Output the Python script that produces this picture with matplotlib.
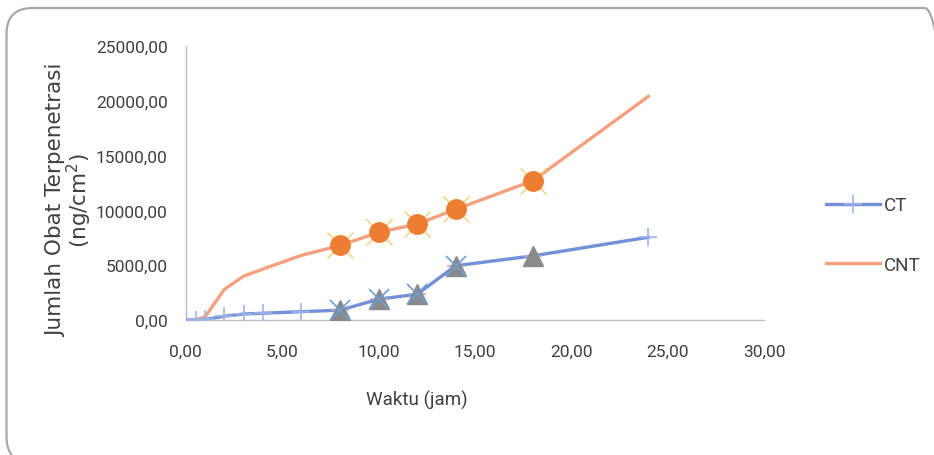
import matplotlib.pyplot as plt
from matplotlib.patches import FancyBboxPatch
from matplotlib.ticker import FuncFormatter

# Data
waktu = [0, 0.5, 1, 2, 3, 4, 6, 8, 10, 12, 14, 18, 24]
ct = [0, 0, 50, 350, 550, 620, 760, 900, 1900, 2350, 4950, 5850, 7550]
cnt = [0, 0, 300, 2800, 4000, 4650, 5900, 6800, 8000, 8750, 10100, 12700, 20400]

# special markers (Excel point formatting)
ct_tri_x = [8, 10, 12, 14, 18]
ct_tri_y = [900, 1900, 2350, 4950, 5850]
ct_star_x = [8, 10, 12, 14]
ct_star_y = [900, 1900, 2350, 4950]
cnt_dot_x = [8, 10, 12, 14, 18]
cnt_dot_y = [6800, 8000, 8750, 10100, 12700]

narrow = ['Roboto', 'DejaVu Sans']
txt = '#404040'

fig = plt.figure(figsize=(9.34, 4.56), dpi=100)
ax = fig.add_axes([0.199, 0.296, 0.619, 0.601])

# rounded border (inches), runs off the right and bottom edges
box = FancyBboxPatch((0.065, -0.08), 9.44, 4.55, boxstyle='round,pad=0,rounding_size=0.26',
                     transform=fig.dpi_scale_trans, facecolor='none', edgecolor='#a8a8a8', lw=1.6)
fig.patches.append(box)

ax.plot(waktu, ct, color='#7490d8', lw=2.4, marker='+', ms=13, mew=1.2,
        mec='#9db4e8', label='CT', zorder=3)
ax.plot(waktu, cnt, color='#f4a07f', lw=2.4, label='CNT', zorder=2)

ax.plot(ct_tri_x, ct_tri_y, ls='none', marker='^', ms=14, color='#8a8a8a', zorder=4)
ax.plot(ct_star_x, ct_star_y, ls='none', marker='x', ms=15, mew=1.2, color='#6aa0d8', zorder=5)
ax.plot(cnt_dot_x, cnt_dot_y, ls='none', marker='x', ms=19, mew=1.0, color='#f5cf70', zorder=4)
ax.plot(cnt_dot_x, cnt_dot_y, ls='none', marker='o', ms=14, color='#ed7d31', zorder=5)

ax.set_xlim(0, 30)
ax.set_ylim(0, 25000)
ax.set_xticks(range(0, 31, 5))
ax.set_yticks(range(0, 25001, 5000))
ax.xaxis.set_major_formatter(FuncFormatter(lambda v, p: f'{v:.2f}'.replace('.', ',')))
ax.yaxis.set_major_formatter(FuncFormatter(lambda v, p: f'{v:.2f}'.replace('.', ',')))
ax.tick_params(length=0, labelsize=12.5, colors=txt)
ax.tick_params(axis='x', pad=17)
ax.tick_params(axis='y', pad=13)
for lab in ax.get_xticklabels() + ax.get_yticklabels():
    lab.set_family(narrow)

for s in ['top', 'right']:
    ax.spines[s].set_visible(False)
for s in ['left', 'bottom']:
    ax.spines[s].set_color('#bfbfbf')
    ax.spines[s].set_linewidth(1)

fig.text(417 / 934, 1 - 400 / 456, 'Waktu (jam)', ha='center', va='center',
         fontsize=13.5, family=narrow, color=txt)
fig.text(0.075, 0.56, 'Jumlah Obat Terpenetrasi\n(ng/cm$^2$)', rotation=90, ha='center',
         va='center', fontsize=15.5, color=txt, linespacing=0.95)

leg = ax.legend(loc='center left', bbox_to_anchor=(1.107, 0.31), frameon=False, borderpad=0,
                borderaxespad=0, handlelength=2.9, labelspacing=2.2, handletextpad=0.2,
                fontsize=13.5)
for t in leg.get_texts():
    t.set_family(narrow)
    t.set_color(txt)

fig.savefig('out.png', dpi=100)
